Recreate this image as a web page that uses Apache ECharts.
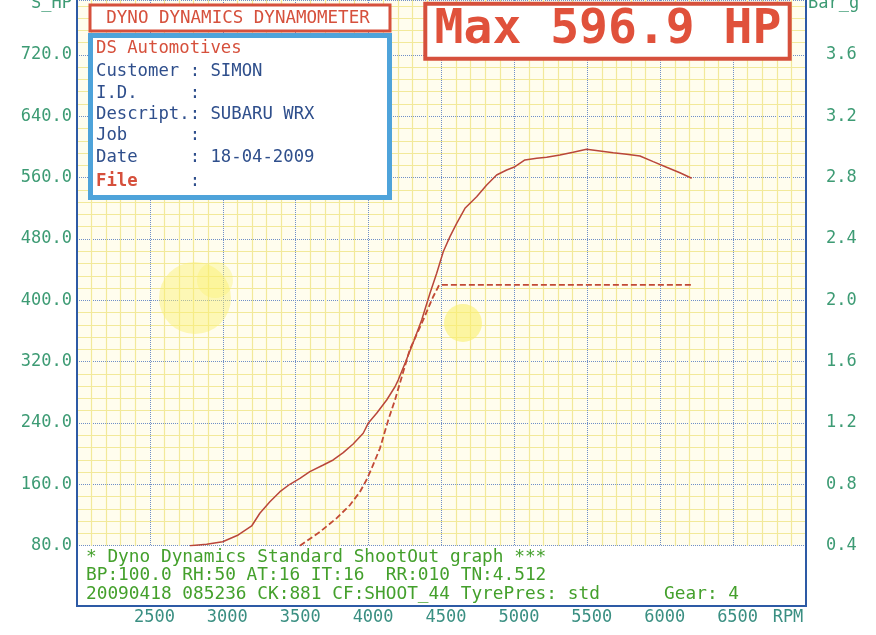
<!DOCTYPE html>
<html><head><meta charset="utf-8">
<script src="https://cdn.jsdelivr.net/npm/echarts@6/dist/echarts.min.js"></script>
<style>html,body{margin:0;padding:0;background:#fff}#c{width:876px;height:635px}</style>
</head><body><div id="c"></div>
<script>
// ---- data ----
const powerRpm = [2774,2889,2999,3106,3198,3254,3323,3392,3460,3529,3597,3689,3757,3826,3894,3963,3997,4055,4124,4181,4203,4250,4310,4364,4421,4467,4512,4558,4604,4661,4741,4810,4878,4947,5004,5072,5153,5221,5312,5403,5495,5587,5678,5770,5861,5952,6044,6135,6216];
const powerHp  = [80,81.8,85.2,94,105.7,122.3,137.4,150.4,160.1,167.9,176.5,185.2,191.8,201.3,212.6,226.6,239.6,252.7,270,287.3,296,318,347,374.3,409.1,435.2,463.4,483,500.4,520,535.1,550.4,563.4,569.9,574.2,583,585.2,586.5,589.5,593,596.9,594.7,592.5,590.4,588.2,580.8,573.5,566.4,559.1];
const boostRpm = [3529,3666,3781,3872,3940,3986,4021,4078,4135,4181,4215,4283,4374,4441,4484,6216];
const boostBar = [0.40,0.49,0.58,0.665,0.75,0.83,0.905,1.035,1.22,1.35,1.46,1.68,1.87,2.02,2.10,2.10];
const xTickLabels  = ['2500','3000','3500','4000','4500','5000','5500','6000','6500'];
const yTickLabels  = ['80.0','160.0','240.0','320.0','400.0','480.0','560.0','640.0','720.0'];
const y2TickLabels = ['0.4','0.8','1.2','1.6','2.0','2.4','2.8','3.2','3.6'];
const leftAxisTitle = 'S_HP';
const rightAxisTitle = 'Bar_g';
const xAxisTitle = 'RPM';
const headerTitle = 'DYNO DYNAMICS DYNAMOMETER';
const maxText = 'Max 596.9 HP';
const infoHeader = 'DS Automotives';
const infoLines = ['Customer : SIMON','I.D.     :','Descript.: SUBARU WRX','Job      :','Date     : 18-04-2009'];
const fileLabel = 'File';
const footerLines = ['* Dyno Dynamics Standard ShootOut graph ***','BP:100.0 RH:50 AT:16 IT:16  RR:010 TN:4.512','20090418 085236 CK:881 CF:SHOOT_44 TyrePres: std      Gear: 4'];

// ---- chart ----
const MONO = '"DejaVu Sans Mono"';
const chart = echarts.init(document.getElementById('c'), null, {renderer:'canvas'});
const red = '#d6503c', blue = '#2f4f8c', frameBlue = '#2d5aa5';
const pair = (a,b) => a.map((v,i)=>[v,b[i]]);

const g = [];
// stains
g.push({type:'circle', shape:{cx:195,cy:298,r:36}, style:{fill:'rgba(250,240,110,0.45)'}, z:1});
g.push({type:'circle', shape:{cx:215,cy:280,r:18}, style:{fill:'rgba(250,240,110,0.35)'}, z:1});
g.push({type:'circle', shape:{cx:463,cy:323,r:19}, style:{fill:'rgba(250,240,110,0.6)'}, z:1});
// frame + footer area
g.push({type:'rect', shape:{x:78,y:547,width:727,height:58}, style:{fill:'#ffffff'}, z:50});
g.push({type:'rect', shape:{x:77,y:-10,width:729,height:616}, style:{fill:null, stroke:frameBlue, lineWidth:2}, z:60});
footerLines.forEach((t,i)=>g.push({type:'text', x:86, y:557+i*18.7, style:{text:t, font:'17.8px '+MONO, fill:'#44a02c', align:'left', verticalAlign:'middle'}, z:70}));
// header box
g.push({type:'rect', shape:{x:90,y:5,width:300,height:26}, style:{fill:'#fff', stroke:red, lineWidth:3}, z:80});
g.push({type:'text', x:238, y:18, style:{text:headerTitle, font:'17.5px '+MONO, fill:red, align:'center', verticalAlign:'middle'}, z:81});
// info box
g.push({type:'rect', shape:{x:90.5,y:35.5,width:299,height:162}, style:{fill:'#fff', stroke:'#4ea3da', lineWidth:5}, z:80});
g.push({type:'text', x:96, y:48.5, style:{text:infoHeader, font:'17.3px '+MONO, fill:red, align:'left', verticalAlign:'middle'}, z:81});
infoLines.forEach((t,i)=>g.push({type:'text', x:96, y:72+i*21.3, style:{text:t, font:'17.3px '+MONO, fill:blue, align:'left', verticalAlign:'middle'}, z:81}));
g.push({type:'text', x:96, y:182, style:{text:fileLabel, font:'bold 17.3px '+MONO, fill:red, align:'left', verticalAlign:'middle'}, z:81});
g.push({type:'text', x:96+9*10.42, y:182, style:{text:':', font:'17.3px '+MONO, fill:blue, align:'left', verticalAlign:'middle'}, z:81});
// max box
g.push({type:'rect', shape:{x:425.3,y:3.7,width:364.4,height:55}, style:{fill:'#fff', stroke:red, lineWidth:4}, z:80});
g.push({type:'text', x:608, y:31, style:{text:maxText, font:'bold 48px '+MONO, fill:'#e0513b', align:'center', verticalAlign:'middle'}, z:81});
// axis titles
g.push({type:'text', x:72, y:4, style:{text:leftAxisTitle, font:'17px '+MONO, fill:'#3d9b74', align:'right', verticalAlign:'middle'}, z:81});
g.push({type:'text', x:808, y:4, style:{text:rightAxisTitle, font:'17px '+MONO, fill:'#3d9b74', align:'left', verticalAlign:'middle'}, z:81});
g.push({type:'text', x:788, y:618, style:{text:xAxisTitle, font:'17px '+MONO, fill:'#3a8f82', align:'center', verticalAlign:'middle'}, z:81});

const option = {
  animation:false,
  backgroundColor:'#ffffff',
  grid:{left:77, right:70, top:0, bottom:89.3, show:true, backgroundColor:'#fffdee', borderWidth:0},
  xAxis:{type:'value', min:2000, max:7000, interval:500,
    axisLine:{show:false}, axisTick:{show:false},
    axisLabel:{margin:63, color:'#3a8f82', fontFamily:'DejaVu Sans Mono', fontSize:17, padding:[0,0,0,9],
      formatter:v=>{const s=String(v); return xTickLabels.includes(s)?s:'';}},
    splitLine:{show:true, lineStyle:{color:'#6f8fc8', type:'dotted', width:1}},
    minorTick:{show:false, splitNumber:5},
    minorSplitLine:{show:true, lineStyle:{color:'#f2e99a', width:1.2}}},
  yAxis:[
    {type:'value', min:80, max:791.6, interval:80, position:'left',
      axisLine:{show:false}, axisTick:{show:false},
      axisLabel:{margin:5, color:'#3d9b74', fontFamily:'DejaVu Sans Mono', fontSize:17,
        formatter:v=>{const s=v.toFixed(1); return yTickLabels.includes(s)?s:'';}},
      splitLine:{show:true, lineStyle:{color:'#6f8fc8', type:'dotted', width:1}},
      minorTick:{show:false, splitNumber:5},
      minorSplitLine:{show:true, lineStyle:{color:'#f2e99a', width:1.2}}},
    {type:'value', min:0.4, max:3.958, interval:0.4, position:'right',
      axisLine:{show:false}, axisTick:{show:false}, splitLine:{show:false},
      axisLabel:{margin:20, color:'#3d9b74', fontFamily:'DejaVu Sans Mono', fontSize:17,
        formatter:v=>{const s=v.toFixed(1); return y2TickLabels.includes(s)?s:'';}}}
  ],
  series:[
    {name:'Power', type:'line', yAxisIndex:0, data:pair(powerRpm,powerHp), symbol:'none',
      lineStyle:{color:'#b9463a', width:1.5}, z:5},
    {name:'Boost', type:'line', yAxisIndex:1, data:pair(boostRpm,boostBar), symbol:'none',
      lineStyle:{color:'#c24a36', width:1.8, type:[6,3]}, z:5}
  ],
  graphic:{elements:g}
};
chart.setOption(option);
</script></body></html>
